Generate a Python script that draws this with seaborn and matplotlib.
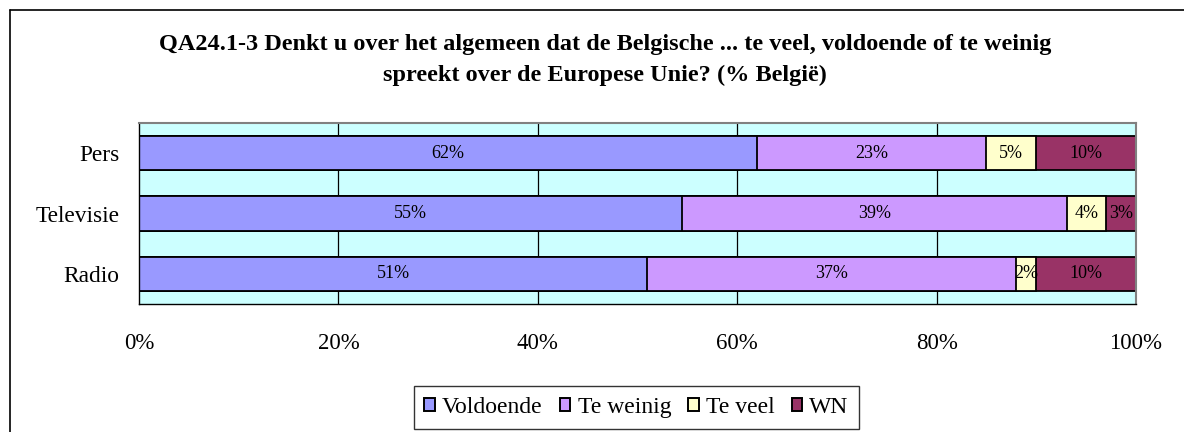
import pandas as pd
import matplotlib.pyplot as plt
import numpy as np
import seaborn as sns
from matplotlib.lines import Line2D
from matplotlib.patches import Patch

media = ['Pers', 'Televisie', 'Radio']
answers = ['Voldoende', 'Te weinig', 'Te veel', 'WN']
voldoende = [62, 55, 51]
te_weinig = [23, 39, 37]
te_veel = [5, 4, 2]
wn = [10, 3, 10]
colors = ['#9999FF', '#CC99FF', '#FFFFCC', '#993366']

title = ("QA24.1-3 Denkt u over het algemeen dat de Belgische ... te veel, voldoende of te weinig\n"
         "spreekt over de Europese Unie? (% België)")

sns.set_style('white')
plt.rcParams['font.family'] = ['Liberation Serif', 'DejaVu Serif']
plt.rcParams['text.color'] = 'black'
plt.rcParams['xtick.color'] = 'black'
plt.rcParams['ytick.color'] = 'black'

vals = np.array([voldoende, te_weinig, te_veel, wn], dtype=float)
shares = vals / vals.sum(axis=0) * 100   # 100% stacked
ends = shares.cumsum(axis=0)

fig = plt.figure(figsize=(11.84, 4.32), dpi=100)
ax = fig.add_axes([139/1184, 1 - 304/432, 997/1184, 181/432])
ax.set_facecolor('#CCFFFF')

# draw cumulative bars from longest to shortest so they stack visually
for i in range(len(answers) - 1, -1, -1):
    df = pd.DataFrame({'media': media, 'end': ends[i]})
    sns.barplot(data=df, x='end', y='media', orient='h', color=colors[i],
                edgecolor='black', linewidth=1.3, width=0.57, saturation=1,
                ax=ax, zorder=2)

for i in range(len(answers)):
    for j in range(len(media)):
        mid = ends[i][j] - shares[i][j] / 2
        ax.text(mid, j, f'{int(vals[i][j])}%', ha='center', va='center',
                fontsize=13, color='black', zorder=3)

ax.set_xlim(0, 100)
ax.set_ylim(2.5, -0.5)
ax.set_xticks([0, 20, 40, 60, 80, 100])
ax.set_xticklabels(['0%', '20%', '40%', '60%', '80%', '100%'], fontsize=16.5)
ax.set_yticks([0, 1, 2])
ax.set_yticklabels(media, fontsize=16.8)
ax.set_yticks([-0.5, 0.5, 1.5, 2.5], minor=True)
ax.tick_params(axis='y', which='major', length=0, pad=14)
ax.tick_params(axis='y', which='minor', length=8, width=1, color='black', direction='out')
ax.tick_params(axis='x', length=8, width=1, color='black', direction='out', pad=13)
ax.set_xlabel('')
ax.set_ylabel('')
ax.grid(False)
for x in [20, 40, 60, 80]:
    ax.axvline(x, color='black', linewidth=0.9, zorder=1)
for s in ['top', 'right']:
    ax.spines[s].set_color('#808080')
    ax.spines[s].set_linewidth(1.5)
for s in ['left', 'bottom']:
    ax.spines[s].set_color('black')
    ax.spines[s].set_linewidth(1)

fig.text(605/1184, 1 - 60/432, title, ha='center', va='center', fontsize=17.5,
         fontweight='bold', linespacing=1.55)

handles = [Patch(facecolor=c, edgecolor='black', linewidth=1.4) for c in colors]
leg = fig.legend(handles, answers, loc='center', bbox_to_anchor=(636.5/1184, 1 - 407.5/432),
                 ncol=4, fontsize=17, frameon=True, fancybox=False, edgecolor='black',
                 handlelength=0.45, handleheight=0.45, handletextpad=0.3,
                 columnspacing=0.72, borderpad=0.45, borderaxespad=0)
leg.get_frame().set_linewidth(1)

# outer chart frame (top and left edges)
fig.add_artist(Line2D([10/1184, 1], [1 - 10/432, 1 - 10/432], color='black', linewidth=1.2))
fig.add_artist(Line2D([10/1184, 10/1184], [0, 1 - 10/432], color='black', linewidth=1.2))

fig.savefig('out.png', dpi=100)
